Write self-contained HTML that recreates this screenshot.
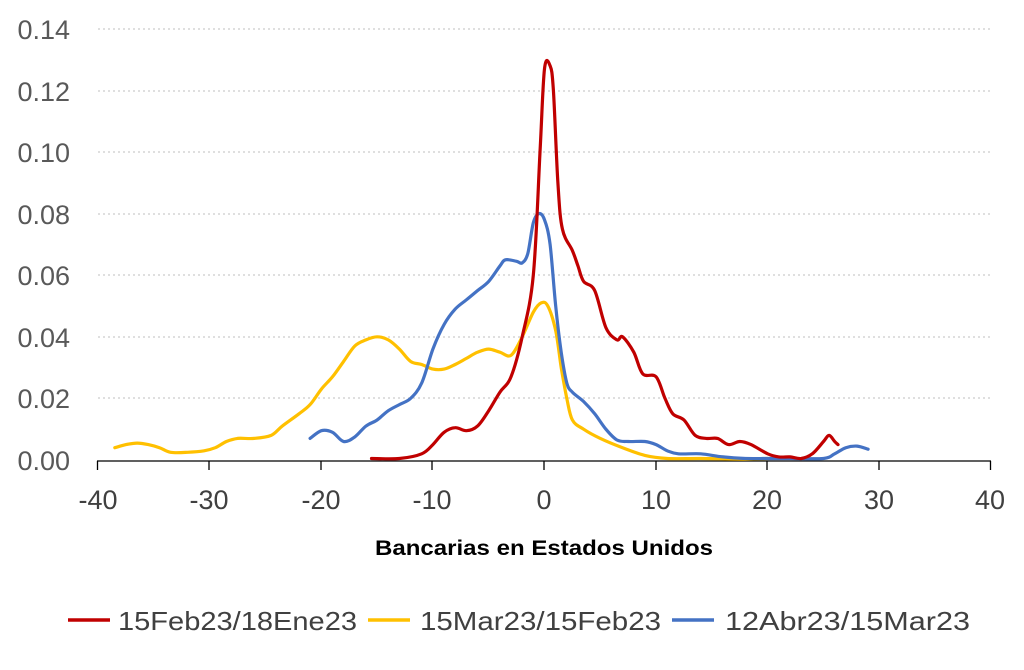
<!DOCTYPE html>
<html><head><meta charset="utf-8"><style>
body{margin:0;background:#fff}
svg{display:block}
.yl{font:27px "Liberation Sans",sans-serif;fill:#595959;text-anchor:end}
.xl{font:27px "Liberation Sans",sans-serif;fill:#404040;text-anchor:middle}
.lg{font:26px "Liberation Sans",sans-serif;fill:#404040}
</style></head><body>
<svg id="s" width="1024" height="670" viewBox="0 0 1024 670">
<g stroke="#bfbfbf" stroke-width="1" stroke-dasharray="2,3">
<line x1="98" x2="991" y1="29" y2="29"/><line x1="98" x2="991" y1="91" y2="91"/>
<line x1="98" x2="991" y1="152" y2="152"/><line x1="98" x2="991" y1="214" y2="214"/>
<line x1="98" x2="991" y1="275" y2="275"/><line x1="98" x2="991" y1="337" y2="337"/>
<line x1="98" x2="991" y1="398" y2="398"/>
</g>
<g class="yl">
<text x="70" y="39">0.14</text><text x="70" y="101">0.12</text><text x="70" y="162">0.10</text>
<text x="70" y="224">0.08</text><text x="70" y="285">0.06</text><text x="70" y="347">0.04</text>
<text x="70" y="408">0.02</text><text x="70" y="470">0.00</text>
</g>
<g stroke="#000" stroke-width="1.3">
<line x1="97" x2="991" y1="461" y2="461"/>
<line x1="97.5" x2="97.5" y1="461" y2="470"/><line x1="209" x2="209" y1="461" y2="470"/>
<line x1="321" x2="321" y1="461" y2="470"/><line x1="432" x2="432" y1="461" y2="470"/>
<line x1="544" x2="544" y1="461" y2="470"/><line x1="656" x2="656" y1="461" y2="470"/>
<line x1="767" x2="767" y1="461" y2="470"/><line x1="879" x2="879" y1="461" y2="470"/>
<line x1="990.5" x2="990.5" y1="461" y2="470"/>
</g>
<g class="xl">
<text x="98" y="509">-40</text><text x="209" y="509">-30</text><text x="321" y="509">-20</text>
<text x="432" y="509">-10</text><text x="544" y="509">0</text><text x="656" y="509">10</text>
<text x="767" y="509">20</text><text x="879" y="509">30</text><text x="990" y="509">40</text>
</g>
<text x="375" y="555" textLength="338" lengthAdjust="spacingAndGlyphs" style="font:bold 21px 'Liberation Sans',sans-serif;fill:#000">Bancarias en Estados Unidos</text>
<line x1="68" x2="110" y1="620" y2="620" stroke="#c00000" stroke-width="3.5"/>
<text class="lg" x="118" y="630" textLength="239" lengthAdjust="spacingAndGlyphs">15Feb23/18Ene23</text>
<line x1="368" x2="410" y1="620" y2="620" stroke="#ffc000" stroke-width="3.5"/>
<text class="lg" x="420" y="630" textLength="241" lengthAdjust="spacingAndGlyphs">15Mar23/15Feb23</text>
<line x1="672" x2="714" y1="620" y2="620" stroke="#4472c4" stroke-width="3.5"/>
<text class="lg" x="725" y="630" textLength="245" lengthAdjust="spacingAndGlyphs">12Abr23/15Mar23</text>
<g id="curves" fill="none" stroke-width="3.2" stroke-linejoin="round" stroke-linecap="round"></g>
</svg>
<script>
var Y=[[-38.5,.004],[-37.5,.005],[-36.5,.0055],[-35.5,.005],[-34.5,.004],[-33.5,.0025],[-32,.0025],[-30.5,.003],[-29.5,.004],[-28.5,.006],[-27.5,.007],[-26,.007],[-24.5,.008],[-23.5,.011],[-22,.015],[-21,.018],[-20,.023],[-19,.027],[-18,.032],[-17,.037],[-16,.039],[-15,.040],[-14,.039],[-13,.036],[-12,.032],[-11,.031],[-10,.0295],[-9,.0295],[-8,.031],[-7,.033],[-6,.035],[-5,.036],[-4,.035],[-3,.034],[-2,.04],[-1,.048],[-.3,.051],[.3,.05],[1,.042],[1.5,.03],[2,.02],[2.5,.013],[3.5,.01],[5,.007],[7,.004],[9,.0015],[11,.0005],[14,.0005],[18,.0003],[20,.0005]];
var B=[[-21,.007],[-20,.0095],[-19,.009],[-18,.006],[-17,.0075],[-16,.011],[-15,.013],[-14,.016],[-13,.018],[-12,.02],[-11,.025],[-10,.036],[-9,.044],[-8,.049],[-7,.052],[-6,.055],[-5,.058],[-4,.063],[-3.5,.065],[-2.5,.0645],[-2,.064],[-1.5,.067],[-1,.077],[-.5,.08],[0,.078],[.5,.07],[1,.05],[1.5,.035],[2,.025],[2.5,.022],[3.5,.019],[4.5,.015],[5.5,.01],[6.5,.0065],[7.5,.006],[9,.006],[10,.005],[11,.003],[12,.002],[14,.002],[16,.001],[18,.0005],[20,.0005],[22,.0005],[25,.0005],[26,.002],[27,.004],[28,.0045],[29,.0035]];
var R=[[-15.5,.0005],[-13,.0005],[-11,.002],[-10,.005],[-9,.009],[-8,.0105],[-7,.0095],[-6,.011],[-5,.016],[-4,.022],[-3,.027],[-2,.04],[-1,.06],[-.4,.1],[0,.127],[.5,.128],[.8,.12],[1.2,.09],[1.6,.075],[2.5,.068],[3,.063],[3.5,.058],[4.5,.055],[5.5,.043],[6.5,.039],[7,.04],[8,.035],[8.8,.028],[10,.027],[10.8,.02],[11.5,.015],[12.5,.013],[13.5,.008],[14.5,.007],[15.5,.007],[16.5,.005],[17.5,.006],[18.5,.005],[20,.002],[21,.001],[22,.001],[23,.0005],[24,.002],[25,.006],[25.5,.008],[26,.006],[26.3,.005]];
function path(d){var p=d.map(function(a){return[544.5+a[0]*11.16,460-a[1]*3080]});
var s="M"+p[0][0].toFixed(1)+","+p[0][1].toFixed(1);
for(var i=0;i<p.length-1;i++){var p0=p[i-1]||p[i],p1=p[i],p2=p[i+1],p3=p[i+2]||p2;
var c1=[p1[0]+(p2[0]-p0[0])/6,p1[1]+(p2[1]-p0[1])/6],c2=[p2[0]-(p3[0]-p1[0])/6,p2[1]-(p3[1]-p1[1])/6];
s+="C"+c1[0].toFixed(1)+","+c1[1].toFixed(1)+" "+c2[0].toFixed(1)+","+c2[1].toFixed(1)+" "+p2[0].toFixed(1)+","+p2[1].toFixed(1);}
return s;}
var g=document.getElementById("curves"),ns="http://www.w3.org/2000/svg";
[[Y,"#ffc000"],[B,"#4472c4"],[R,"#c00000"]].forEach(function(c){var e=document.createElementNS(ns,"path");e.setAttribute("d",path(c[0]));e.setAttribute("stroke",c[1]);g.appendChild(e);});
</script>
</body></html>
